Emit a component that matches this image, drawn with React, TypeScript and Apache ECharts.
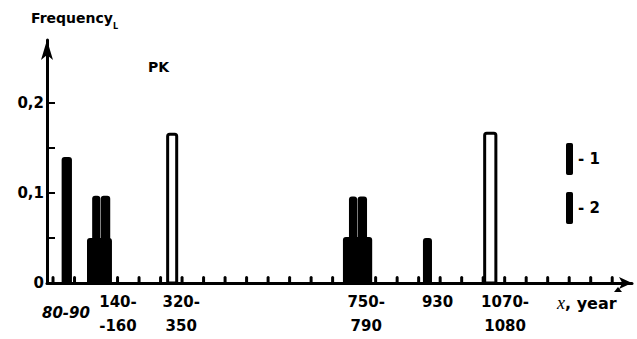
import React, { useEffect, useRef } from "react";
import * as echarts from "echarts";

// filled bars (series 1): start year, end year, frequency
const filledStart = [70, 129, 141, 161, 724, 738, 758, 910];
const filledEnd = [94, 187, 160, 183, 792, 757, 780, 931];
const filledFreq = [0.14, 0.05, 0.097, 0.097, 0.051, 0.096, 0.096, 0.05];

// open bars (series 2)
const openStart = [313, 1050];
const openEnd = [341, 1083];
const openFreq = [0.167, 0.168];

// x-axis tick years and category labels
const xTickYears = [50, 100, 150, 200, 250, 300, 350, 400, 450, 500, 550, 600, 650, 700, 750, 800, 850, 900, 950, 1000, 1050, 1100, 1150, 1200, 1250, 1300, 1350];
const xLabelYears = [80, 201, 348, 778, 944, 1101];
const xLabelTexts = ["{low|80-90}", "140-\n-160", "320-\n350", "750-\n790", "930", "1070-\n1080"];

const yTickValues = [0.05, 0.1, 0.15, 0.2];
const yLabelValues = [0, 0.1, 0.2];
const yLabelTexts = ["0", "0,1", "0,2"];

const FONT = "DejaVu Sans";

export default function App() {
  const ref = useRef<HTMLDivElement>(null);
  useEffect(() => {
    if (!ref.current) return;
    const chart = echarts.init(ref.current, null, { renderer: "svg" });
    const filledData = filledStart.map((s, i) => [s, filledEnd[i], filledFreq[i]]);
    const openData = openStart.map((s, i) => [s, openEnd[i], openFreq[i]]);
    const xTickData = xTickYears.map((y) => [y, 0]);
    const yTickData = yTickValues.map((v) => [36, v]);

    const option: any = {
      animation: false,
      backgroundColor: "#fff",
      grid: { left: 47, right: 5, top: 40, bottom: 56 },
      xAxis: {
        type: "value",
        min: 36,
        max: 1396,
        splitLine: { show: false },
        axisLine: {
          show: true,
          lineStyle: { color: "#000", width: 3 },
          symbol: ["none", "arrow"],
          symbolSize: [9, 13],
        },
        axisTick: { show: false },
        axisLabel: {
          show: true,
          margin: 7,
          customValues: xLabelYears,
          formatter: (v: number) => {
            const i = xLabelYears.indexOf(Math.round(v));
            return i >= 0 ? xLabelTexts[i] : "";
          },
          color: "#000",
          fontFamily: FONT,
          fontWeight: "bold",
          fontSize: 15,
          lineHeight: 24,
          rich: {
            low: {
              fontFamily: FONT,
              fontWeight: "bold",
              fontStyle: "italic",
              fontSize: 15,
              lineHeight: 46,
              color: "#000",
            },
          },
        },
      },
      yAxis: {
        type: "value",
        min: 0,
        max: 0.27,
        splitLine: { show: false },
        axisLine: {
          show: true,
          lineStyle: { color: "#000", width: 3 },
          symbol: ["none", "arrow"],
          symbolSize: [9, 20],
        },
        axisTick: { show: false },
        axisLabel: {
          show: true,
          margin: 3,
          customValues: yLabelValues,
          formatter: (v: number) => {
            const k = Math.round(v * 10);
            return yLabelTexts[k] ?? "";
          },
          color: "#000",
          fontFamily: FONT,
          fontWeight: "bold",
          fontSize: 15,
        },
      },
      legend: {
        orient: "vertical",
        left: 566,
        top: 143,
        padding: 0,
        itemWidth: 7,
        itemHeight: 32,
        itemGap: 17,
        formatter: "- {name}",
        textStyle: { fontFamily: FONT, fontWeight: "bold", fontSize: 15, color: "#000" },
        data: [
          { name: "1", icon: "roundRect", itemStyle: { color: "#000", borderWidth: 0 } },
          { name: "2", icon: "roundRect", itemStyle: { color: "#000", borderWidth: 0 } },
        ],
      },
      series: [
        {
          name: "1",
          type: "custom",
          data: filledData,
          encode: { x: [0, 1], y: 2 },
          itemStyle: { color: "#000" },
          renderItem: (params: any, api: any) => {
            const p0 = api.coord([api.value(0), 0]);
            const p1 = api.coord([api.value(1), api.value(2)]);
            return {
              type: "rect",
              shape: { x: p0[0], y: p1[1], width: p1[0] - p0[0], height: p0[1] - p1[1], r: [3, 3, 0, 0] },
              style: { fill: "#000" },
            };
          },
        },
        {
          name: "2",
          type: "custom",
          data: openData,
          encode: { x: [0, 1], y: 2 },
          itemStyle: { color: "#000" },
          renderItem: (params: any, api: any) => {
            const p0 = api.coord([api.value(0), 0]);
            const p1 = api.coord([api.value(1), api.value(2)]);
            const lw = 3;
            return {
              type: "rect",
              shape: {
                x: p0[0] + lw / 2,
                y: p1[1] + lw / 2,
                width: p1[0] - p0[0] - lw,
                height: p0[1] - p1[1] - lw / 2,
                r: [2, 2, 0, 0],
              },
              style: { fill: "#fff", stroke: "#000", lineWidth: lw },
            };
          },
        },
        {
          name: "xticks",
          type: "custom",
          data: xTickData,
          encode: { x: 0, y: 1 },
          silent: true,
          z: 5,
          renderItem: (params: any, api: any) => {
            const p = api.coord([api.value(0), api.value(1)]);
            return {
              type: "rect",
              shape: { x: p[0] - 1.5, y: p[1] - 7, width: 3, height: 7, r: [1.5, 1.5, 0, 0] },
              style: { fill: "#000" },
            };
          },
        },
        {
          name: "yticks",
          type: "custom",
          data: yTickData,
          encode: { x: 0, y: 1 },
          silent: true,
          z: 5,
          renderItem: (params: any, api: any) => {
            const p = api.coord([api.value(0), api.value(1)]);
            return {
              type: "rect",
              shape: { x: p[0], y: p[1] - 1, width: 8, height: 2 },
              style: { fill: "#000" },
            };
          },
        },
      ],
      graphic: [
        {
          type: "text",
          left: 31,
          top: 11,
          style: { text: "Frequency", fontFamily: FONT, fontWeight: "bold", fontSize: 14, fill: "#000" },
        },
        {
          type: "text",
          left: 113,
          top: 22,
          style: { text: "L", fontFamily: FONT, fontWeight: "bold", fontSize: 8, fill: "#000" },
        },
        {
          type: "text",
          left: 148,
          top: 60,
          style: { text: "PK", fontFamily: FONT, fontWeight: "bold", fontSize: 14, fill: "#000" },
        },
        {
          type: "text",
          left: 557,
          top: 294,
          style: {
            text: "{i|x}{n|, year}",
            rich: {
              i: { fontFamily: "Liberation Serif", fontStyle: "italic", fontSize: 18, fill: "#000" },
              n: { fontFamily: FONT, fontWeight: "bold", fontSize: 16, fill: "#000" },
            },
          },
        },
        {
          type: "polygon",
          shape: { points: [[614, 292], [622, 292], [618, 287]] },
          style: { fill: "#000" },
        },
      ],
    };
    chart.setOption(option);
    return () => chart.dispose();
  }, []);
  return (
    <div
      ref={ref}
      style={{ position: "fixed", left: 0, top: 0, width: 637, height: 339, background: "#fff" }}
    />
  );
}
